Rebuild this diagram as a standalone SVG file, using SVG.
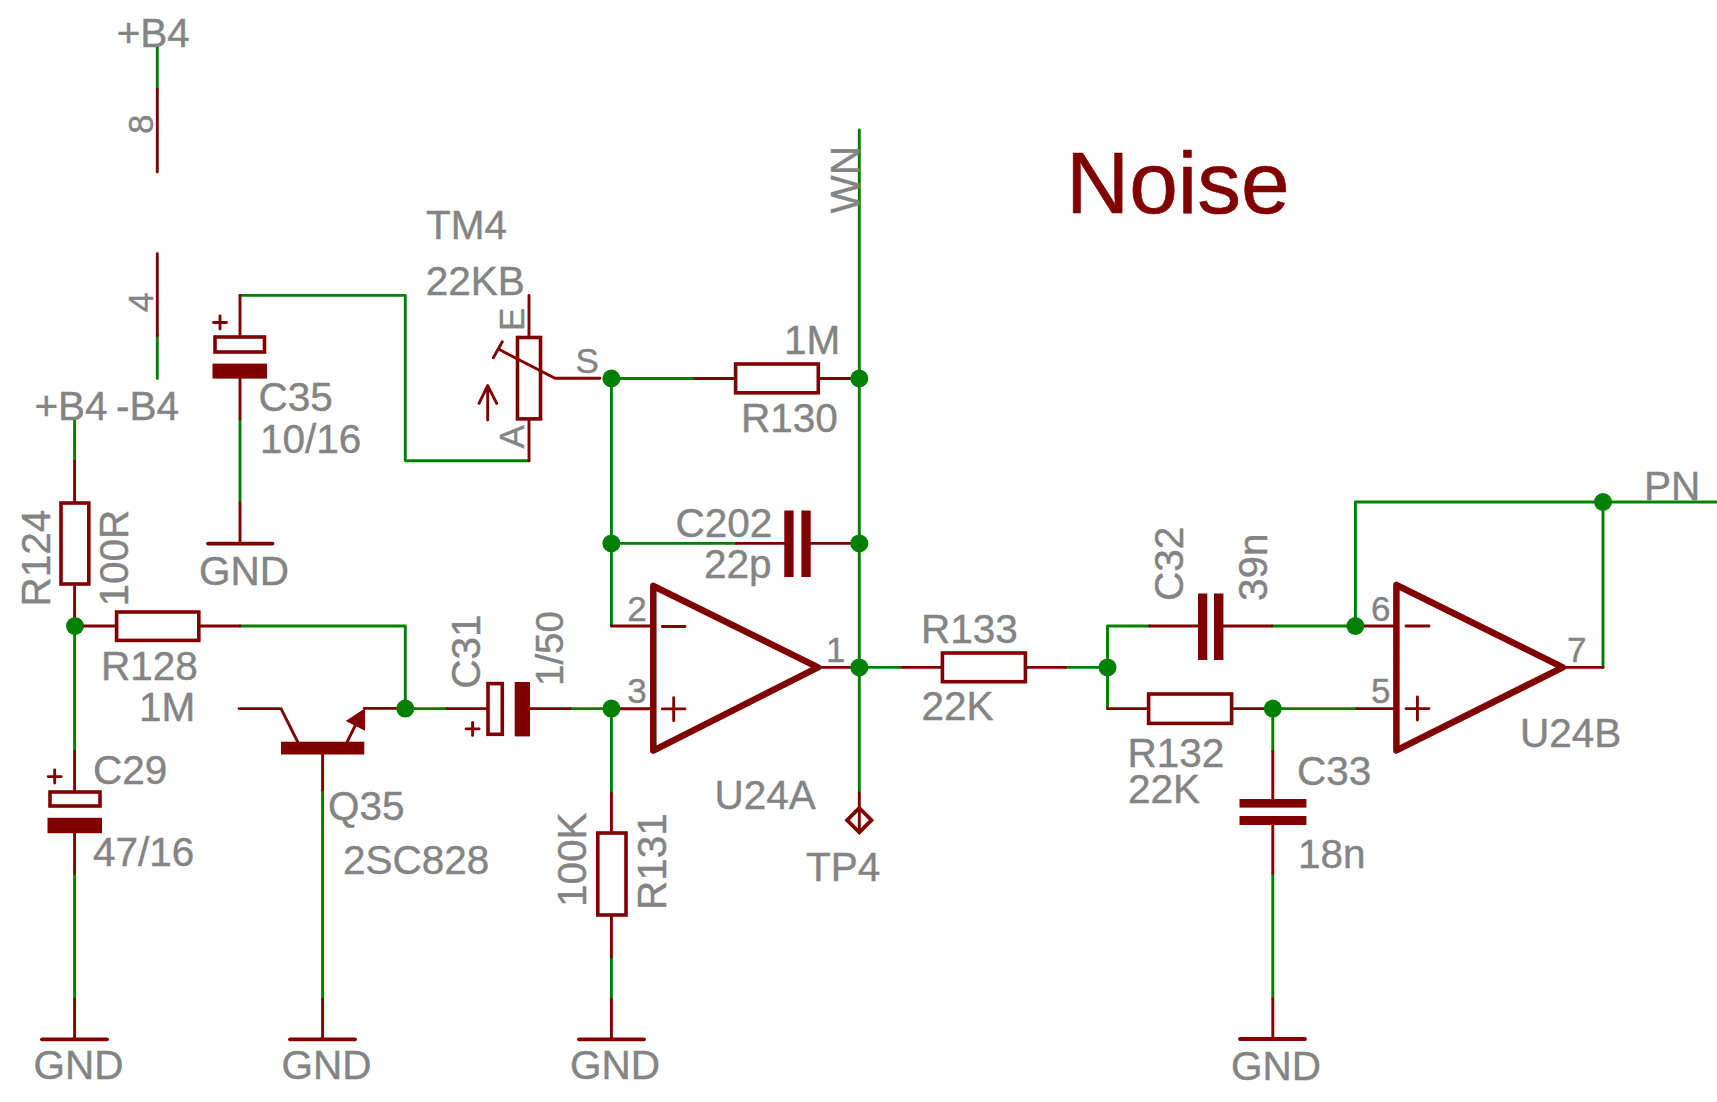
<svg xmlns="http://www.w3.org/2000/svg" width="1717" height="1102" viewBox="0 0 1717 1102">
<style>
text{font-family:"Liberation Sans",Arial,sans-serif;font-size:40.5px;fill:#848484;stroke:#848484;stroke-width:.4}
.s{font-size:35px}
.t{font-size:87.5px;fill:#800000;stroke:#800000;stroke-width:.6}
.w,.p,.b,.o,.g{fill:none;stroke-linecap:round;stroke-linejoin:round}
.w{stroke:#008000;stroke-width:2.9}
.p{stroke:#800000;stroke-width:2.9}
.b{stroke:#800000;stroke-width:3.6;fill:#fff;stroke-linejoin:miter}
.o{stroke:#800000;stroke-width:6.5;fill:#fff}
.g{stroke:#800000;stroke-width:3.8}
.d{fill:none;stroke:#800000;stroke-width:3.8;stroke-linejoin:miter}
.f{fill:#800000}
.j{fill:#008000}
</style>
<rect width="1717" height="1102" fill="#fff"/>
<g id="connectors">
<path class="w" d="M157.300 47V89.300M157.300 335.700V378.600"/>
<path class="w" d="M240 295.400H405.300V460.700H529"/>
<path class="w" d="M240 418.600V502.900"/>
<path class="w" d="M74.600 418.600V461.400"/>
<path class="w" d="M74.600 626V751.500M74.600 873.300V999.500"/>
<path class="w" d="M240 626H405.300V708.600H447"/>
<path class="w" d="M322.600 790V999.500"/>
<path class="w" d="M570 708.600H611.400V793M611.400 957V999.500"/>
<path class="w" d="M611.400 378.500V626M611.400 378.500H695M611.400 543.400H736.400"/>
<path class="w" d="M859.300 130V793M859.300 667.400H902.500"/>
<path class="w" d="M1065.700 667.400H1107.500V626H1149.500M1107.500 667.400V708.600"/>
<path class="w" d="M1272 626H1355.400V502H1717"/>
<path class="w" d="M1272.800 708.600H1357M1272.800 708.600V751.500M1272.800 873.300V999"/>
<path class="w" d="M1603 502V667.400"/>
</g>
<g id="title"><text class="t" x="1066" y="213">Noise</text></g>
<g id="supply-top">
<path class="p" d="M157.300 89.300V172M157.300 253.600V335.700"/>
<text x="116.700" y="47">+B4</text>
<text class="s" transform="translate(153 134) rotate(-90)">8</text>
<text class="s" transform="translate(153 312) rotate(-90)">4</text>
</g>
<g id="supply-b4">
<text x="34.400" y="419.600">+B4</text>
<text x="116" y="419.600">-B4</text>
</g>
<g id="C35">
<path class="p" d="M240 295.400V336M240 378V418.600M240 502.900V543.600"/>
<rect class="b" x="215" y="337" width="49.500" height="15"/>
<rect class="f" x="212.500" y="363.600" width="54.500" height="15"/>
<path class="p" d="M213.500 322.500H226.500M220 316V329"/>
<text x="258.500" y="411.400">C35</text>
<text x="260" y="452.900">10/16</text>
</g>
<g id="GND1"><path class="g" d="M208 543.600H272.500"/><text x="199" y="584.800">GND</text></g>
<g id="TM4">
<path class="p" d="M529 295.400V336M529 420V460.700"/>
<rect class="b" x="517.500" y="337.500" width="23" height="81.400"/>
<path class="p" d="M498.300 349L555 378.300H600M493.300 357.700L502.300 341.700M487.700 420V385.700M479 403.300L487.700 385.700L496.700 403.300"/>
<text x="426" y="239.300">TM4</text>
<text x="425.700" y="295">22KB</text>
<text class="s" transform="translate(523.500 331) rotate(-90)">E</text>
<text class="s" transform="translate(523.500 448.500) rotate(-90)">A</text>
<text class="s" x="575.500" y="372.900">S</text>
</g>
<g id="R124">
<path class="p" d="M74.600 461.400V502M74.600 585V626"/>
<rect class="b" x="61" y="503" width="27.800" height="81"/>
<text transform="translate(49.700 606.500) rotate(-90)">R124</text>
<text transform="translate(128.200 606.500) rotate(-90)">100R</text>
</g>
<g id="R128">
<path class="p" d="M75 626H115.600M199.800 626H240"/>
<rect class="b" x="116.600" y="612" width="82.200" height="28.400"/>
<text x="101" y="679.800">R128</text>
<text x="139" y="721">1M</text>
</g>
<g id="C29">
<path class="p" d="M74.600 751.500V791M74.600 833V873.300"/>
<rect class="b" x="50" y="792" width="50" height="14"/>
<rect class="f" x="47.500" y="817.800" width="54.500" height="15.400"/>
<path class="p" d="M48.200 776.600H61.200M54.700 770V783"/>
<text x="93" y="783.700">C29</text>
<text x="93" y="865.500">47/16</text>
</g>
<g id="GND2"><path class="p" d="M74.600 999.500V1039.300"/><path class="g" d="M42 1039.300H107"/><text x="33.400" y="1079.400">GND</text></g>
<g id="Q35">
<path class="p" d="M239 708.600H281L298 742.500M322.600 755V790M347.300 741.700L356 724M364.300 708.400H405.300"/>
<rect class="f" x="281" y="741.700" width="83.300" height="12.800"/>
<polygon class="f" points="365,708.300 345.700,721 365,730.700"/>
<text x="328" y="819.600">Q35</text>
<text x="343" y="874">2SC828</text>
</g>
<g id="GND3"><path class="p" d="M322.600 999.500V1039.300"/><path class="g" d="M290 1039.300H355"/><text x="281.500" y="1079.400">GND</text></g>
<g id="C31">
<path class="p" d="M447 708.600H487M530 708.600H570"/>
<rect class="b" x="488" y="683.600" width="14.300" height="50.700"/>
<rect class="f" x="514.700" y="682" width="15.300" height="54.400"/>
<path class="p" d="M466.100 728.900H479.100M472.600 722.400V735.400"/>
<text transform="translate(480.300 688.700) rotate(-90)">C31</text>
<text transform="translate(562.600 686) rotate(-90)" style="font-size:38.500px">1/50</text>
</g>
<g id="R131">
<path class="p" d="M611.400 793V832M611.400 916V957"/>
<rect class="b" x="597.800" y="833" width="28.200" height="82"/>
<text transform="translate(586.300 907) rotate(-90)">100K</text>
<text transform="translate(665.700 910) rotate(-90)">R131</text>
</g>
<g id="GND4"><path class="p" d="M611.400 999.500V1039.300"/><path class="g" d="M579 1039.300H644"/><text x="570" y="1079.400">GND</text></g>
<g id="R130">
<path class="p" d="M695 378.500H734.600M819.300 378.500H859.300"/>
<rect class="b" x="735.600" y="364" width="82.700" height="28.800"/>
<text x="784" y="353.600">1M</text>
<text x="741" y="432">R130</text>
</g>
<g id="C202">
<path class="p" d="M736.400 543.400H785M810 543.400H859.300"/>
<rect class="f" x="784.300" y="510.500" width="9.300" height="66.500"/>
<rect class="f" x="801.400" y="510.500" width="9.300" height="66.500"/>
<text x="675.500" y="536.500">C202</text>
<text x="704" y="577.500">22p</text>
</g>
<g id="U24A">
<path class="p" d="M611.400 626H653M611.400 708.700H653M820 667.400H859.300"/>
<polygon class="o" points="653.300,586 653.300,750.600 818,667.400"/>
<path class="p" d="M662.300 626.500H685M662.300 708.900H685M673.700 697.700V720.700"/>
<text class="s" x="627.300" y="620.700">2</text>
<text class="s" x="627.300" y="702.700">3</text>
<text class="s" x="826" y="661.600">1</text>
<text x="714.500" y="809">U24A</text>
</g>
<g id="WN"><text transform="translate(859 213.500) rotate(-90)">WN</text></g>
<g id="TP4">
<path class="p" d="M859.300 793V830"/>
<path class="d" d="M859.300 808L871.500 820.200L859.300 832.400L847.100 820.200Z"/>
<text x="806" y="881.300">TP4</text>
</g>
<g id="R133">
<path class="p" d="M902.500 667.400H941.400M1026.400 667.400H1065.700"/>
<rect class="b" x="942.400" y="653" width="83" height="28.700"/>
<text x="921" y="642.500">R133</text>
<text x="921.500" y="720">22K</text>
</g>
<g id="C32">
<path class="p" d="M1149.500 626H1198M1223 626H1272"/>
<rect class="f" x="1198" y="593.500" width="9.300" height="66.500"/>
<rect class="f" x="1214" y="593.500" width="9.400" height="66.500"/>
<text transform="translate(1183 601) rotate(-90)">C32</text>
<text transform="translate(1267.400 601) rotate(-90)">39n</text>
</g>
<g id="R132">
<path class="p" d="M1107.500 708.600H1147.600M1232.600 708.600H1272.800"/>
<rect class="b" x="1148.600" y="694" width="83" height="29.400"/>
<text x="1127.500" y="766.800">R132</text>
<text x="1128" y="803.400">22K</text>
</g>
<g id="C33">
<path class="p" d="M1272.800 751.500V800M1272.800 825V873.300"/>
<rect class="f" x="1239.500" y="799" width="66.900" height="8.600"/>
<rect class="f" x="1239.500" y="816" width="66.900" height="9"/>
<text x="1297" y="784.700">C33</text>
<text x="1298" y="867.900">18n</text>
</g>
<g id="GND5"><path class="p" d="M1272.800 999V1039"/><path class="g" d="M1240 1039H1305"/><text x="1231" y="1080">GND</text></g>
<g id="U24B">
<path class="p" d="M1355.400 626H1396.400M1357 708.600H1396.400M1564.800 667.400H1603"/>
<polygon class="o" points="1396.400,585 1396.400,750.400 1562.800,667.400"/>
<path class="p" d="M1406 626H1429M1406 708.600H1429M1417.400 697V720"/>
<text class="s" x="1371" y="620.500">6</text>
<text class="s" x="1371" y="702.800">5</text>
<text class="s" x="1567" y="662">7</text>
<text x="1520" y="747.300">U24B</text>
<text x="1644" y="499.500">PN</text>
</g>
<g id="junctions">
<circle class="j" cx="75" cy="626" r="9"/>
<circle class="j" cx="405.300" cy="708.600" r="9"/>
<circle class="j" cx="611.400" cy="378.500" r="9"/>
<circle class="j" cx="611.400" cy="543.400" r="9"/>
<circle class="j" cx="611.400" cy="708.600" r="9"/>
<circle class="j" cx="859.300" cy="378.500" r="9"/>
<circle class="j" cx="859.300" cy="543.400" r="9"/>
<circle class="j" cx="859.300" cy="667.400" r="9"/>
<circle class="j" cx="1107.500" cy="667.400" r="9"/>
<circle class="j" cx="1272.800" cy="708.600" r="9"/>
<circle class="j" cx="1355.400" cy="626" r="9"/>
<circle class="j" cx="1603" cy="502" r="9"/>
</g>
</svg>
